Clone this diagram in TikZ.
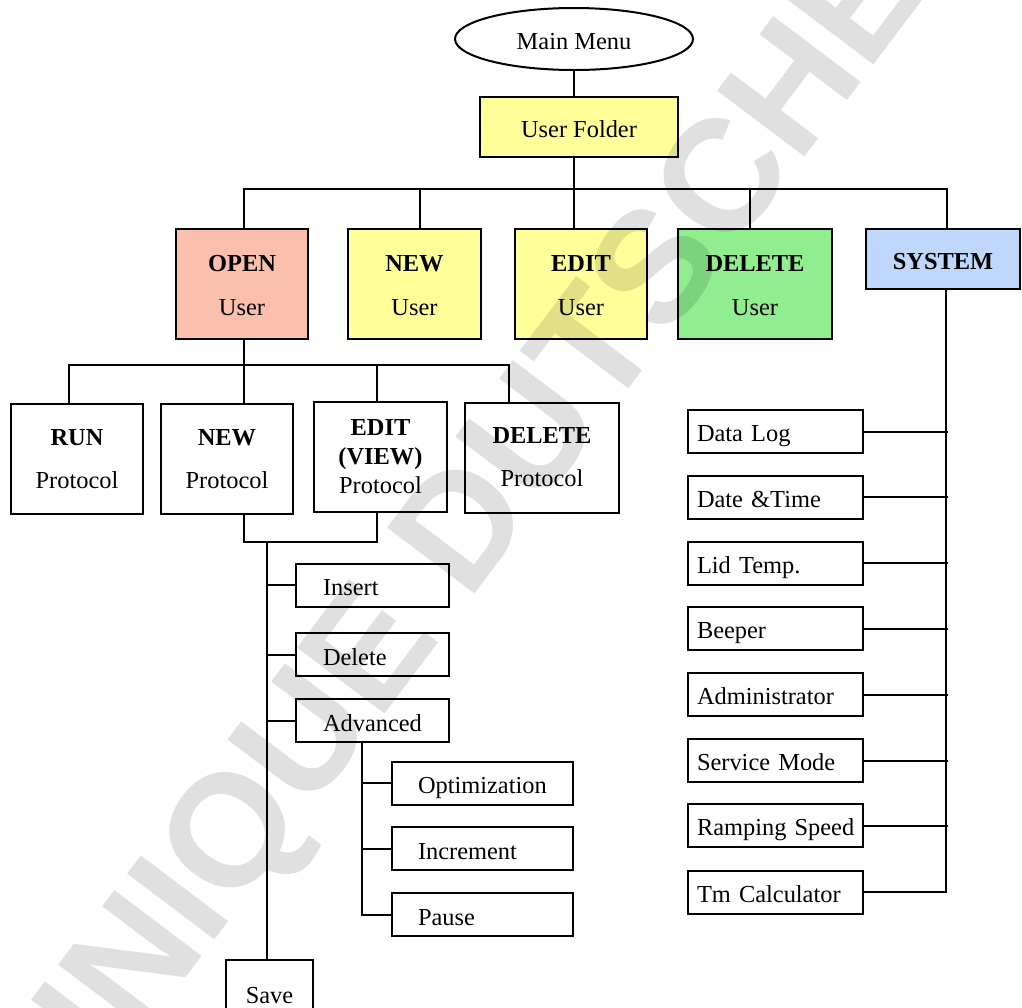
\documentclass[tikz,border=0pt]{standalone}
\usepackage{fontspec}
\setmainfont{Liberation Serif}
\newfontfamily\wmfont{Liberation Sans}
\usetikzlibrary{shapes.geometric}
\definecolor{openc}{RGB}{251,191,174}
\definecolor{yel}{RGB}{255,255,153}
\definecolor{grn}{RGB}{144,238,144}
\definecolor{blu}{RGB}{190,215,250}
\newcommand{\tstrut}{\rule{0pt}{10pt}}
\begin{document}
\begin{tikzpicture}[x=0.5pt,y=-0.5pt,
  every node/.style={font=\fontsize{12.2}{15}\selectfont, inner sep=0pt},
  box/.style={draw, line width=1pt},
  oneline/.style={text height=11.6pt, text depth=1pt},
  conn/.style={line width=1pt},
  topbox/.style={box, minimum width=66pt, minimum height=55pt, align=center, font=\fontsize{12.2}{22}\selectfont},
  protbox/.style={box, minimum width=66pt, minimum height=55pt, align=center, font=\fontsize{12.2}{21.5}\selectfont},
  subbox/.style={box, oneline, text width=76.5pt, minimum height=21.5pt, align=left},
  advbox/.style={box, oneline, text width=90.5pt, minimum height=21.5pt, align=left},
  sysbox/.style={box, text height=11.4pt, text depth=1pt, text width=87.5pt, minimum height=21.5pt, align=left},
  wmark/.style={text=black, text opacity=0.12, font=\wmfont\bfseries\fontsize{79.5}{79.5}\selectfont}
]
\useasboundingbox (0,0) rectangle (1022,1007);
\clip (0,0) rectangle (1022,1007);
\fill[white] (0,0) rectangle (1022,1007);

% top
\node[box, oneline, ellipse, minimum width=119pt, minimum height=31pt] (main) at (574,39) {Main Menu};
\node[box, oneline, fill=yel, minimum width=99pt, minimum height=30pt] (uf) at (579,127) {User Folder};

\node[topbox, fill=openc] (open) at (242,284) {\tstrut\textbf{OPEN}\\User};
\node[topbox, fill=yel, minimum width=66.5pt] (newu) at (414.5,284) {\tstrut\textbf{NEW}\\User};
\node[topbox, fill=yel] (editu) at (581,284) {\tstrut\textbf{EDIT}\\User};
\node[topbox, fill=grn, minimum width=77pt] (delu) at (755,284) {\tstrut\textbf{DELETE}\\User};
\node[box, oneline, fill=blu, minimum width=77pt, minimum height=30pt] (sys) at (943,259) {\textbf{SYSTEM}};

% protocol row
\node[protbox] (run) at (77,459) {\textbf{RUN}\\Protocol};
\node[protbox] (newp) at (227,459) {\textbf{NEW}\\Protocol};
\node[protbox, minimum width=66.5pt, font=\fontsize{12.2}{14.5}\selectfont] (editp) at (380.5,457) {\textbf{EDIT}\\\textbf{(VIEW)}\\Protocol};
\node[protbox, minimum width=77pt] (delp) at (542,457.5) {\textbf{DELETE}\\Protocol};

% edit submenu
\node[subbox] (ins) at (372.5,585) {\hspace*{13.5pt}Insert};
\node[subbox] (del) at (372.5,654.5) {\hspace*{13.5pt}Delete};
\node[subbox] (adv) at (372.5,720.5) {\hspace*{13.5pt}Advanced};
\node[advbox] (opt) at (482.5,783) {\hspace*{13pt}Optimization};
\node[advbox] (inc) at (482.5,848.5) {\hspace*{13pt}Increment};
\node[advbox] (pau) at (482.5,914.5) {\hspace*{13pt}Pause};
\node[box, oneline, anchor=north, minimum width=43.5pt, minimum height=33pt] (save) at (269.5,959) {Save};

% system list
\node[sysbox] (dl) at (775.5,431.5) {\hspace*{4.5pt}Data Log};
\node[sysbox] (dt) at (775.5,497) {\hspace*{4.5pt}Date \&Time};
\node[sysbox] (lid) at (775.5,563) {\hspace*{4.5pt}Lid Temp.};
\node[sysbox] (bee) at (775.5,628.5) {\hspace*{4.5pt}Beeper};
\node[sysbox] (adm) at (775.5,694.5) {\hspace*{4.5pt}Administrator};
\node[sysbox] (svc) at (775.5,760.5) {\hspace*{4.5pt}Service Mode};
\node[sysbox] (ramp) at (775.5,825.5) {\hspace*{4.5pt}Ramping Speed};
\node[sysbox] (tm) at (775.5,892) {\hspace*{4.5pt}Tm Calculator};

% connectors
\draw[conn] (main.south) -- (main.south |- uf.north);
\coordinate (bus) at ([xshift=-2.5pt]uf.south);
\draw[conn] (bus) -- ++(0,33);
\draw[conn] ([xshift=1pt]open.north) -- ++(0,-39) -| ([xshift=2pt]sys.north);
\draw[conn] ([xshift=2.75pt]newu.north) -- ++(0,-39);
\draw[conn] ([xshift=-3.5pt]editu.north) -- ++(0,-39);
\draw[conn] ([xshift=-2.5pt]delu.north) -- ++(0,-39);

\draw[conn] ([xshift=1pt]open.south) -- ([xshift=1pt]open.south |- newp.north);
\draw[conn] ([xshift=-4pt]run.north) -- ++(0,-38) -| ([xshift=-16.5pt]delp.north);
\draw[conn] ([xshift=-1.75pt]editp.north) -- ++(0,-36);
\draw[conn] ([xshift=8.5pt]newp.south) -- ++(0,27) -| ([xshift=-1.75pt]editp.south);

\coordinate (t1) at (267,541);
\draw[conn] (t1) -- (t1 |- save.north);
\draw[conn] (ins.west) -- (ins.west -| t1);
\draw[conn] (del.west) -- (del.west -| t1);
\draw[conn] (adv.west) -- (adv.west -| t1);

\coordinate (t2) at ([xshift=-5.25pt]adv.south);
\draw[conn] (t2) |- (pau.west);
\draw[conn] (opt.west) -- (opt.west -| t2);
\draw[conn] (inc.west) -- (inc.west -| t2);

\coordinate (t3) at ([xshift=1.5pt]sys.south);
\draw[conn] (t3) |- (tm.east);
\foreach \n in {dl,dt,lid,bee,adm,svc,ramp}
  \draw[conn] (\n.east) -- ([xshift=0.8pt]\n.east -| t3);

% watermark
\node[wmark, rotate=53] (wm) at (413,610) {DOMINIQUE DUTSCHER};
\end{tikzpicture}
\end{document}
